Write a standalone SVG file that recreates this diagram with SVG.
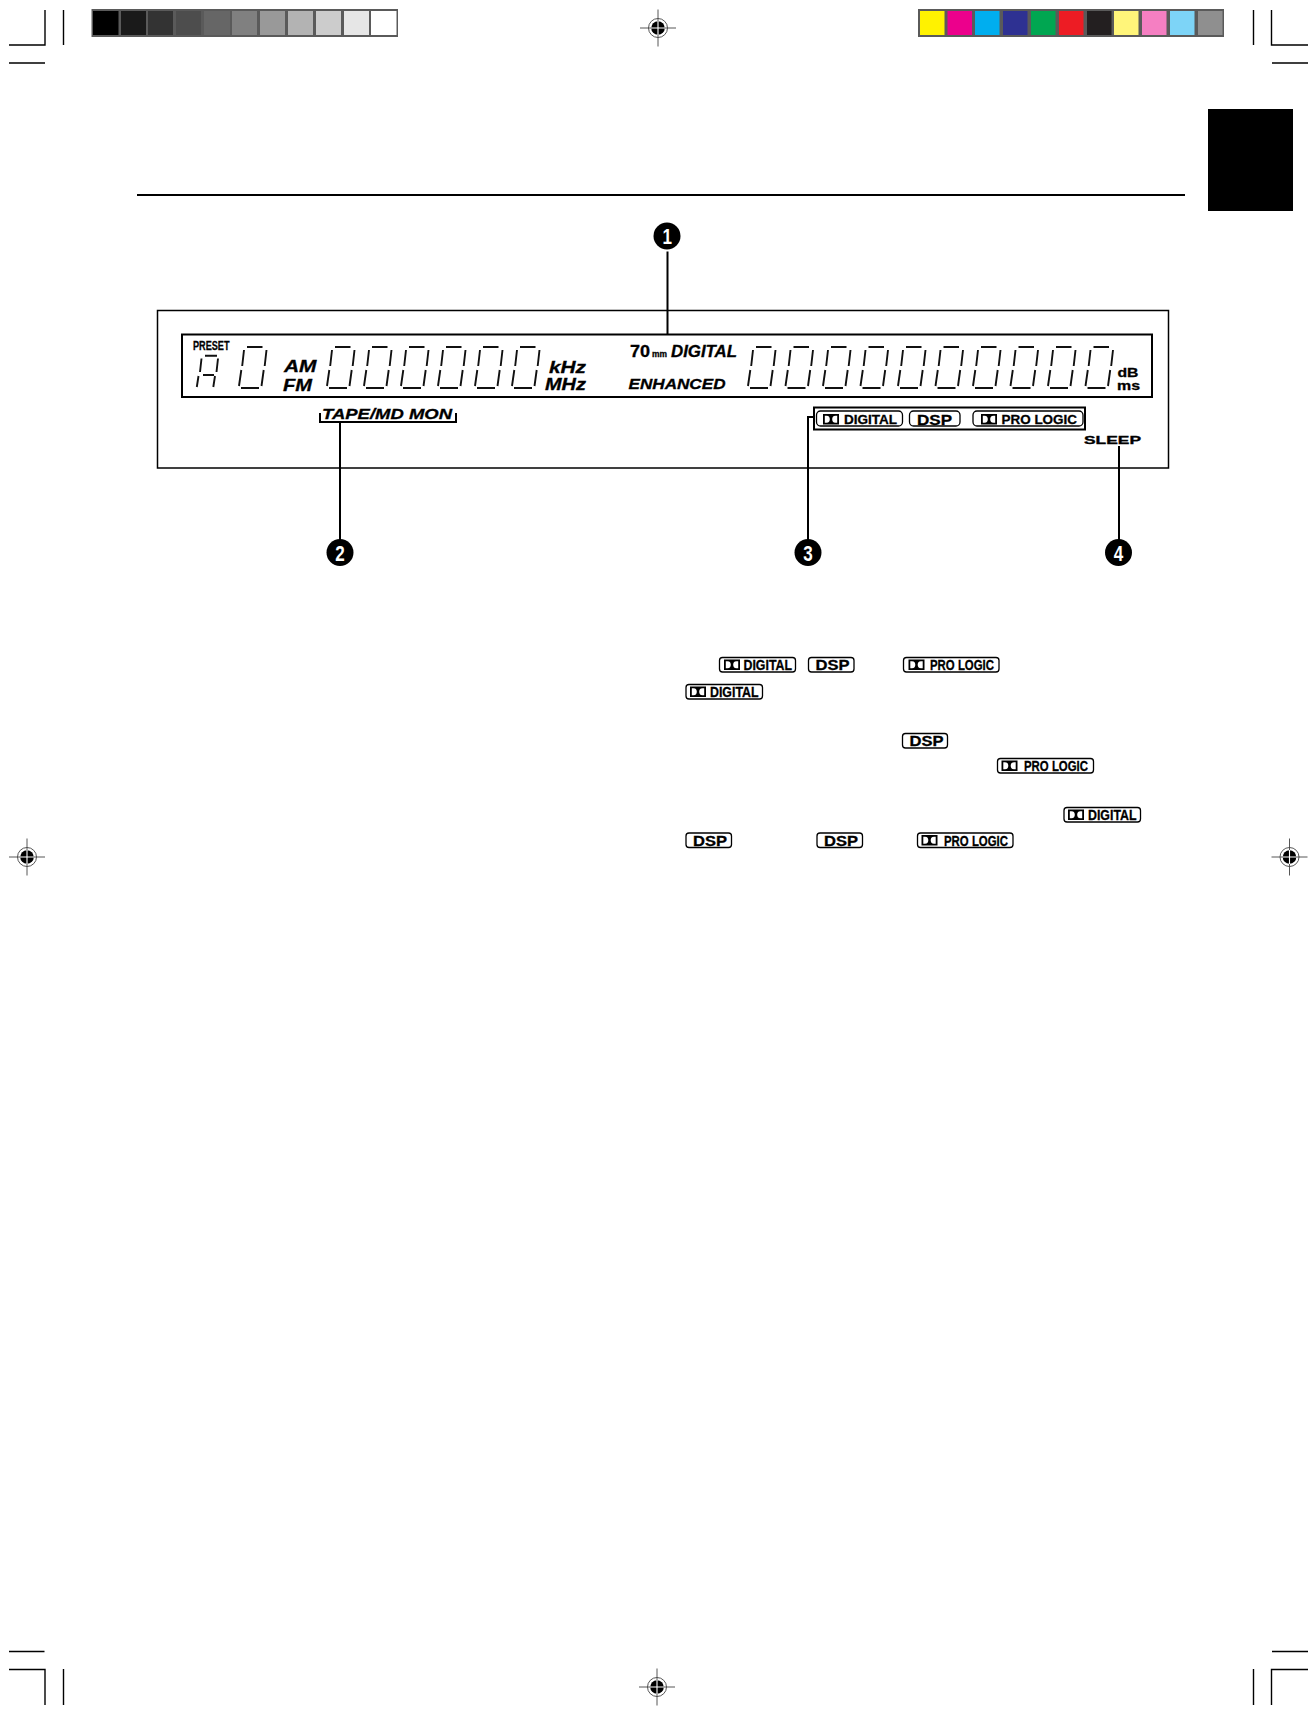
<svg xmlns="http://www.w3.org/2000/svg" xmlns:xlink="http://www.w3.org/1999/xlink" width="1316" height="1714" viewBox="0 0 1316 1714">
<style>
text{font-family:"Liberation Sans",Arial,sans-serif;font-weight:700;fill:#000;stroke:#000;stroke-width:.3}
.it{font-style:italic}
.mk{stroke:#000;stroke-width:1.4;fill:none}
.ld{stroke:#000;stroke-width:2;fill:none}
.seg{stroke:#111;stroke-width:1.9;fill:none}
.bd{fill:#fff;stroke:#000;stroke-width:1.3}
.num{fill:#fff;stroke:none;font-size:22px}
.rg{stroke:#444;stroke-width:.9;fill:none}
.bt{font-size:14.500px}
</style>
<defs>
<path id="digit" class="seg" d="M10 47H25.500M4 88H22M7 50L5.200 66M4.300 70L2 86M29.500 50L27.700 66M26.700 70L24.500 86"/>
<g id="reg"><path class="rg" d="M-18 0H18M0-18.500V18.500"/><circle class="rg" r="9.500"/><circle r="6.800" fill="#000"/><path d="M-7 0H7M0-7V7" stroke="#fff" stroke-width="1.100"/></g>
<path id="dd" d="M0 0H16V10.500H0ZM1.800 1.800V8.700H3.500C6 8.700 6.800 7 6.800 5.250S6 1.800 3.500 1.800ZM14.200 1.800H12.500C10 1.800 9.200 3.500 9.200 5.250S10 8.700 12.500 8.700H14.200Z" fill="#000" fill-rule="evenodd"/>
</defs>
<rect width="1316" height="1714" fill="#fff"/>
<g id="crop-marks">
<path class="mk" d="M9 45H45V10M63.500 10V45M9 63H45M9 1651.500H44.500M9 1669.500H45V1705M63.500 1669V1705M1253.500 10V45M1271.500 10V45H1308M1272 63H1308M1272 1651.500H1308M1308 1669.500H1271.500V1705M1253.500 1669V1705"/>
<use href="#reg" x="658" y="28"/><use href="#reg" x="657" y="1687"/><use href="#reg" x="27" y="857"/><use href="#reg" x="1289.500" y="857"/>
</g>
<g id="gray-bar">
<rect x="91.500" y="9" width="306.500" height="28" fill="#5a5a5a"/>
<rect x="93" y="11" width="25.500" height="24" fill="#000"/>
<rect x="121" y="11" width="25" height="24" fill="#1a1a1a"/>
<rect x="148" y="11" width="25" height="24" fill="#333"/>
<rect x="176" y="11" width="25" height="24" fill="#4d4d4d"/>
<rect x="204" y="11" width="26" height="24" fill="#666"/>
<rect x="232" y="11" width="25" height="24" fill="#808080"/>
<rect x="260" y="11" width="25" height="24" fill="#999"/>
<rect x="288" y="11" width="25" height="24" fill="#b3b3b3"/>
<rect x="316" y="11" width="25" height="24" fill="#ccc"/>
<rect x="344" y="11" width="25" height="24" fill="#e6e6e6"/>
<rect x="371" y="11" width="25.500" height="24" fill="#fff"/>
</g>
<g id="color-bar">
<rect x="918" y="9" width="306" height="28" fill="#5a5a5a"/>
<rect x="920" y="11" width="24.500" height="24" fill="#fff200"/>
<rect x="947.500" y="11" width="24.500" height="24" fill="#ec008c"/>
<rect x="975" y="11" width="24.500" height="24" fill="#00aeef"/>
<rect x="1003" y="11" width="24.500" height="24" fill="#2e3192"/>
<rect x="1031" y="11" width="24.500" height="24" fill="#00a651"/>
<rect x="1059" y="11" width="24.500" height="24" fill="#ed1c24"/>
<rect x="1087" y="11" width="24.500" height="24" fill="#231f20"/>
<rect x="1114" y="11" width="24.500" height="24" fill="#fff57a"/>
<rect x="1142" y="11" width="24.500" height="24" fill="#f57fc2"/>
<rect x="1170" y="11" width="24.500" height="24" fill="#7dd4f7"/>
<rect x="1198" y="11" width="24.500" height="24" fill="#8f8f8f"/>
</g>
<rect id="tab" x="1208" y="109" width="85" height="102" fill="#000"/>
<rect id="rule" x="137" y="194" width="1048" height="2" fill="#000"/>
<g id="panel"><rect x="157.500" y="310.500" width="1011" height="157.500" fill="none" stroke="#000" stroke-width="1.500"/></g>
<g id="connectors">
<path class="ld" d="M667.500 251.500V334M340 422V540M813 417H808V540M1119 446V540"/>
</g>
<g id="display">
<rect x="182" y="334.500" width="970" height="62.500" fill="none" stroke="#000" stroke-width="2"/>
<text x="193" y="350" font-size="13.500" textLength="36.500" lengthAdjust="spacingAndGlyphs">PRESET</text>
<path class="seg" stroke-width="1.200" d="M205 355.700H217M201.500 358.500L200 372M198.500 376L196.800 387M218 358.500L216.500 372M215 376L213.300 387M203 375H214"/>
<use href="#digit" x="237" y="300"/>
<text class="it" x="284" y="371.500" font-size="17" textLength="32.500" lengthAdjust="spacingAndGlyphs">AM</text>
<text class="it" x="283" y="390.500" font-size="17" textLength="29" lengthAdjust="spacingAndGlyphs">FM</text>
<use href="#digit" x="325" y="300"/><use href="#digit" x="362" y="300"/><use href="#digit" x="399" y="300"/><use href="#digit" x="436" y="300"/><use href="#digit" x="473" y="300"/><use href="#digit" x="510" y="300"/>
<text class="it" x="549" y="372.500" font-size="16" textLength="37" lengthAdjust="spacingAndGlyphs">kHz</text>
<text class="it" x="545" y="389.500" font-size="16" textLength="41" lengthAdjust="spacingAndGlyphs">MHz</text>
<text x="630" y="356.500" font-size="16" textLength="20" lengthAdjust="spacingAndGlyphs">70</text>
<text x="652" y="356.500" font-size="8.500" textLength="15" lengthAdjust="spacingAndGlyphs">mm</text>
<text class="it" x="671" y="356.500" font-size="16" textLength="66" lengthAdjust="spacingAndGlyphs">DIGITAL</text>
<text class="it" x="628.500" y="389" font-size="15.500" textLength="97" lengthAdjust="spacingAndGlyphs">ENHANCED</text>
<use href="#digit" x="746" y="300"/><use href="#digit" x="783.500" y="300"/><use href="#digit" x="821" y="300"/><use href="#digit" x="858.500" y="300"/><use href="#digit" x="896" y="300"/><use href="#digit" x="933.500" y="300"/><use href="#digit" x="971" y="300"/><use href="#digit" x="1008.500" y="300"/><use href="#digit" x="1046" y="300"/><use href="#digit" x="1083.500" y="300"/>
<text x="1117.500" y="377" font-size="12.500" textLength="21" lengthAdjust="spacingAndGlyphs">dB</text>
<text x="1117" y="389.500" font-size="13" textLength="23" lengthAdjust="spacingAndGlyphs">ms</text>
</g>
<g id="tape-md-mon">
<text class="it" x="322" y="419" font-size="15.500" textLength="130" lengthAdjust="spacingAndGlyphs">TAPE/MD MON</text>
<path class="ld" d="M320 413V422H456V413"/>
</g>
<g id="surround-modes">
<rect x="814" y="407.500" width="271" height="22" fill="none" stroke="#000" stroke-width="2"/>
<rect class="bd" x="816.500" y="411" width="86" height="15" rx="4"/><use href="#dd" x="823" y="414"/><text x="844" y="424" font-size="13" textLength="53" lengthAdjust="spacingAndGlyphs">DIGITAL</text>
<rect class="bd" x="909.500" y="411" width="50.500" height="15" rx="4"/><text x="917" y="424.500" font-size="14.500" textLength="35" lengthAdjust="spacingAndGlyphs">DSP</text>
<rect class="bd" x="973" y="411" width="110" height="15" rx="4"/><use href="#dd" x="981" y="414"/><text x="1001.500" y="424" font-size="13" textLength="75.500" lengthAdjust="spacingAndGlyphs">PRO LOGIC</text>
</g>
<g id="sleep"><text x="1084" y="444" font-size="10.500" textLength="57" lengthAdjust="spacingAndGlyphs">SLEEP</text></g>
<g id="callout-1"><circle cx="667" cy="236" r="13.500" fill="#000"/><text class="num" x="662.500" y="244" textLength="9.500" lengthAdjust="spacingAndGlyphs">1</text></g>
<g id="callout-2"><circle cx="340" cy="552.500" r="13.500" fill="#000"/><text class="num" x="335.200" y="560.500" textLength="9.500" lengthAdjust="spacingAndGlyphs">2</text></g>
<g id="callout-3"><circle cx="808" cy="552.500" r="13.500" fill="#000"/><text class="num" x="803.200" y="560.500" textLength="9.500" lengthAdjust="spacingAndGlyphs">3</text></g>
<g id="callout-4"><circle cx="1118.500" cy="552.500" r="13.500" fill="#000"/><text class="num" x="1113.700" y="560.500" textLength="9.500" lengthAdjust="spacingAndGlyphs">4</text></g>
<g id="inline-badges">
<rect class="bd" x="719.500" y="657.500" width="76" height="14.500" rx="3"/><use href="#dd" x="724" y="659.500"/><text class="bt" x="743.500" y="670" textLength="48.500" lengthAdjust="spacingAndGlyphs">DIGITAL</text>
<rect class="bd" x="808.500" y="657.500" width="45.500" height="14.500" rx="3"/><text class="bt" x="815.500" y="670" textLength="34" lengthAdjust="spacingAndGlyphs">DSP</text>
<rect class="bd" x="903.500" y="657.500" width="95.500" height="14.500" rx="3"/><use href="#dd" x="908.500" y="659.500"/><text class="bt" x="930" y="670" textLength="64" lengthAdjust="spacingAndGlyphs">PRO LOGIC</text>
<rect class="bd" x="686" y="684.500" width="76.500" height="14.500" rx="3"/><use href="#dd" x="690" y="686.500"/><text class="bt" x="710" y="697" textLength="48.500" lengthAdjust="spacingAndGlyphs">DIGITAL</text>
<rect class="bd" x="902.500" y="733.500" width="45" height="14.500" rx="3"/><text class="bt" x="909.500" y="746" textLength="34" lengthAdjust="spacingAndGlyphs">DSP</text>
<rect class="bd" x="997.500" y="758.500" width="96" height="14.500" rx="3"/><use href="#dd" x="1001.500" y="760.500"/><text class="bt" x="1024" y="771" textLength="64" lengthAdjust="spacingAndGlyphs">PRO LOGIC</text>
<rect class="bd" x="1064" y="807.500" width="76.500" height="14.500" rx="3"/><use href="#dd" x="1068" y="809.500"/><text class="bt" x="1088" y="820" textLength="48.500" lengthAdjust="spacingAndGlyphs">DIGITAL</text>
<rect class="bd" x="686" y="833" width="45.500" height="14.500" rx="3"/><text class="bt" x="693" y="845.500" textLength="34" lengthAdjust="spacingAndGlyphs">DSP</text>
<rect class="bd" x="817" y="833" width="45.500" height="14.500" rx="3"/><text class="bt" x="824" y="845.500" textLength="34" lengthAdjust="spacingAndGlyphs">DSP</text>
<rect class="bd" x="917.500" y="833" width="95.500" height="14.500" rx="3"/><use href="#dd" x="921.500" y="835"/><text class="bt" x="944" y="845.500" textLength="64" lengthAdjust="spacingAndGlyphs">PRO LOGIC</text>
</g>
</svg>
